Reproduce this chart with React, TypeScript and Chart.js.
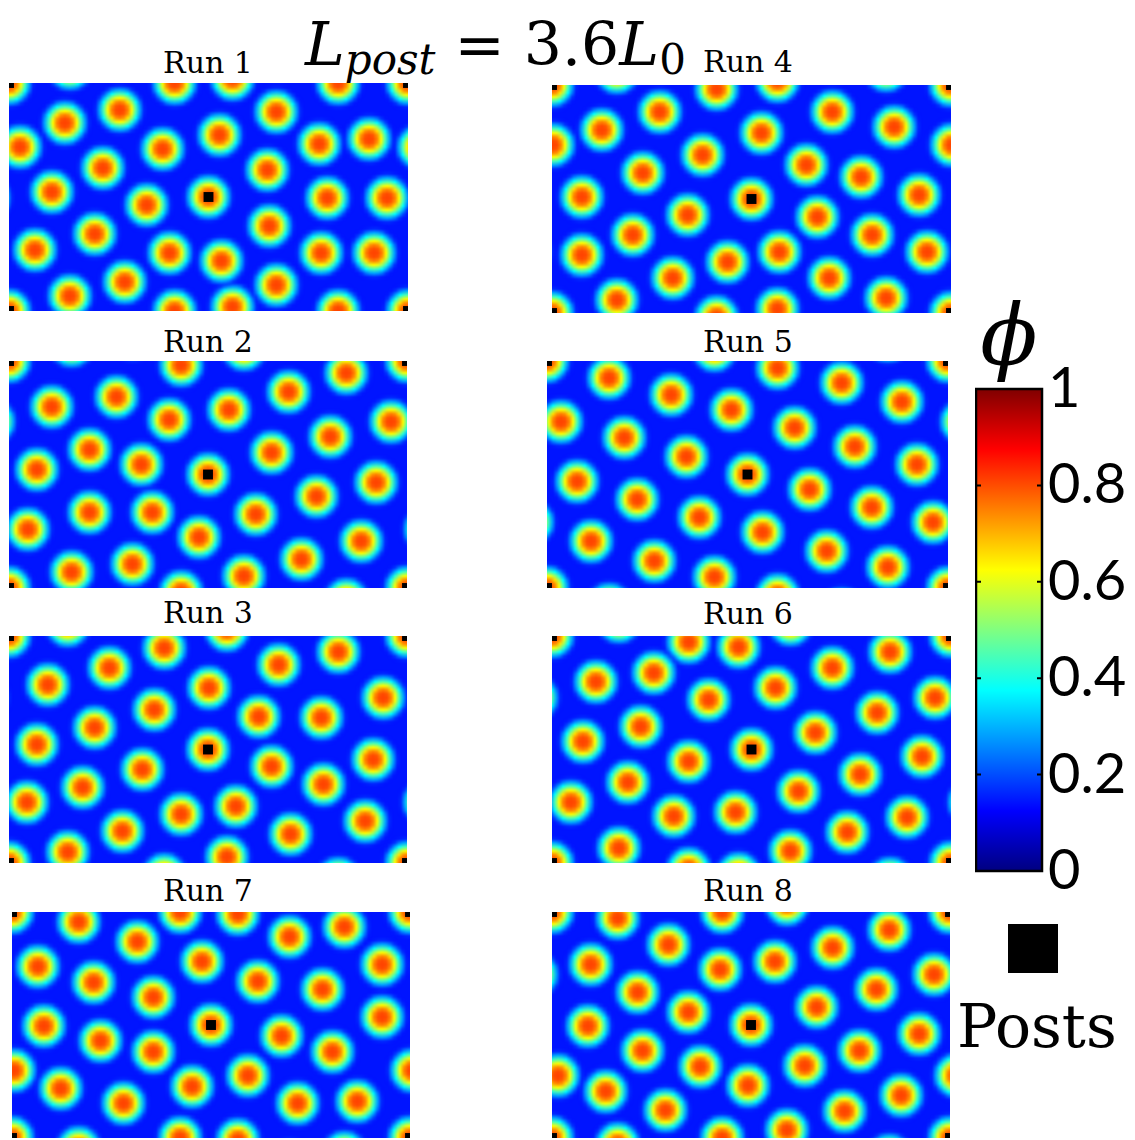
import React, { useEffect, useRef } from "react";
import { Chart, registerables } from "chart.js";

Chart.register(...registerables);

type Pt = [number, number];

// Periodic simulation cell: x in [-200, 200], y in [-114, 114], post at the origin.
const CELL_W = 400;
const CELL_H = 228;

// Order parameter scale
const PHI_MIN = 0;
const PHI_MAX = 1;
const PHI_TICKS = [0, 0.2, 0.4, 0.6, 0.8, 1];
const PHI_BACKGROUND = 0.145; // matrix level between the domains
const PHI_PEAK = 0.81; // level at a domain centre

const RUN_TITLES = ["Run 1", "Run 2", "Run 3", "Run 4", "Run 5", "Run 6", "Run 7", "Run 8"];

// Posts: one at the cell centre, one at the cell corner (periodic images fill the other corners)
const POSTS: Pt[] = [
  [0, 0],
  [200, 114],
];

// Domain centres found in each run (cell units, y up)
const RUN1: Pt[] = [
  [-34, 114], [24, -110], [130, 114],
  [-89, 87], [68, 85], [-144, 74], [11, 62], [-189, 50], [-46, 48], [111, 53], [161, 58],
  [-106, 29], [59, 27], [-157, 5], [-62, -8], [119, -1], [179, -1],
  [-114, -37], [61, -29], [-174, -53], [-39, -56], [13, -64], [113, -56], [166, -56],
  [-84, -85], [68, -88], [-139, -99],
];
const RUN2: Pt[] = [
  [-27, 110], [-137, -98], [36, -102], [139, 102],
  [-157, 68], [-92, 78], [-39, 55], [21, 65], [81, 83], [184, 53], [123, 38], [-119, 25],
  [64, 22], [-172, 5], [-67, 10],
  [169, -8], [109, -22], [-119, -38], [-56, -38], [48, -40], [-181, -55], [-9, -63],
  [154, -67], [-76, -90], [94, -85],
];
const RUN3: Pt[] = [
  [-44, 102], [131, 98], [-99, 82], [-161, 65], [1, 62], [71, 85], [176, 52], [-54, 40],
  [51, 33], [114, 32], [-114, 22], [-172, 5],
  [-66, -20], [64, -17], [166, -10], [-126, -38], [116, -35], [-182, -53], [-27, -65],
  [28, -57], [-86, -82], [83, -85], [158, -72], [-141, -103], [19, -108],
];
const RUN4: Pt[] = [
  [-35, 110], [26, -110],
  [-92, 87], [81, 87], [-150, 69], [10, 66], [143, 72], [-199, 54], [-49, 44], [55, 34],
  [110, 22], [-109, 26],
  [-170, 2], [168, 4], [-64, -16], [66, -18], [-119, -36], [121, -36], [-170, -56],
  [-24, -63], [28, -53], [176, -53],
  [-79, -79], [78, -79], [-135, -101], [135, -99],
];
const RUN5: Pt[] = [
  [30, 107], [-33, -103],
  [-138, 97], [-76, 80], [94, 92], [-16, 65], [154, 73], [-186, 53], [47, 47], [-123, 37],
  [107, 28], [-61, 18], [169, 10],
  [-170, -7], [62, -15], [-110, -25], [124, -33], [-48, -43], [185, -48], [-156, -67],
  [15, -58], [79, -77], [-93, -87], [140, -93],
];
const RUN6: Pt[] = [
  [-63, 108], [-13, 103], [139, 98], [-156, 68], [-98, 77], [-43, 50], [24, 62], [81, 82],
  [184, 52], [126, 37], [-111, 23], [64, 17], [-169, 8],
  [-63, -12], [171, -7], [109, -25], [-124, -33], [47, -42], [-181, -53], [-16, -63],
  [-78, -67], [156, -68], [96, -83], [-133, -99], [39, -102],
];
const RUN7: Pt[] = [
  [-133, 104], [-31, 114], [27, 112], [-74, 84], [79, 89], [134, 99], [-174, 59], [-9, 64],
  [172, 61], [-118, 43], [47, 44], [112, 36], [-58, 28],
  [-168, -1], [172, 8], [71, -11], [-111, -16], [-58, -27], [122, -27], [-198, -46],
  [37, -51], [-151, -64], [-19, -62], [-88, -79], [87, -79], [147, -77],
];
const RUN8: Pt[] = [
  [-134, 108], [-29, 114], [36, -106], [139, 96], [-83, 81], [82, 78], [-161, 61], [-31, 56],
  [24, 64], [184, 51], [-114, 33], [126, 36], [-63, 13], [66, 18],
  [-164, -1], [169, -9], [-109, -26], [-51, -42], [54, -41], [109, -26], [-194, -51],
  [-3, -61], [-146, -67], [151, -71], [-86, -86], [94, -87],
];

const RUN_DOTS: Pt[][] = [RUN1, RUN2, RUN3, RUN4, RUN5, RUN6, RUN7, RUN8];

// Page placement of each run's panel and its caption
const PANEL_LAYOUT = [
  { left: 9, top: 83, width: 399, height: 228, labelX: 208, labelBase: 73 },
  { left: 9, top: 361, width: 398, height: 227, labelX: 208, labelBase: 352 },
  { left: 9, top: 636, width: 398, height: 227, labelX: 208, labelBase: 623 },
  { left: 552, top: 85, width: 399, height: 228, labelX: 748, labelBase: 72 },
  { left: 547, top: 361, width: 401, height: 227, labelX: 748, labelBase: 352 },
  { left: 552, top: 636, width: 399, height: 227, labelX: 748, labelBase: 624 },
  { left: 12, top: 912, width: 398, height: 226, labelX: 208, labelBase: 901 },
  { left: 552, top: 912, width: 398, height: 226, labelX: 748, labelBase: 901 },
];

const SERIF = '"DejaVu Serif", "Liberation Serif", serif';
const SANS = 'Lato, "Open Sans", "Noto Sans", sans-serif';

// Jet colour map
function jet(v: number): [number, number, number] {
  const c = (t: number) => Math.max(0, Math.min(1, t));
  const r = c(Math.min(4 * v - 1.5, -4 * v + 4.5));
  const g = c(Math.min(4 * v - 0.5, -4 * v + 3.5));
  const b = c(Math.min(4 * v + 0.5, -4 * v + 2.5));
  return [Math.round(r * 255), Math.round(g * 255), Math.round(b * 255)];
}
const jetCss = (v: number) => {
  const [r, g, b] = jet(v);
  return `rgb(${r},${g},${b})`;
};

// Marker image for one domain: flat-topped radial profile on a coarse grid, upsampled bilinearly.
// The faint outer halo fades to transparent so neighbouring domains are not covered.
const DOT_SCALE = 17.5;
const DOT_SHARPNESS = 3;
let spriteCache: HTMLCanvasElement | null = null;
function dotSprite(): HTMLCanvasElement {
  if (spriteCache) return spriteCache;
  const n = 15;
  const cell = 4;
  const size = n * cell;
  const small = document.createElement("canvas");
  small.width = n;
  small.height = n;
  const sctx = small.getContext("2d")!;
  const img = sctx.createImageData(n, n);
  for (let j = 0; j < n; j++) {
    for (let i = 0; i < n; i++) {
      const r = Math.hypot((i + 0.5 - n / 2) * cell, (j + 0.5 - n / 2) * cell);
      const f = Math.exp(-Math.pow(r / DOT_SCALE, DOT_SHARPNESS));
      const [R, G, B] = jet(PHI_BACKGROUND + (PHI_PEAK - PHI_BACKGROUND) * f);
      const k = (j * n + i) * 4;
      img.data[k] = R;
      img.data[k + 1] = G;
      img.data[k + 2] = B;
      img.data[k + 3] = Math.round(255 * Math.max(0, Math.min(1, (f - 0.02) / 0.13)));
    }
  }
  sctx.putImageData(img, 0, 0);
  const big = document.createElement("canvas");
  big.width = size;
  big.height = size;
  const bctx = big.getContext("2d")!;
  bctx.imageSmoothingEnabled = true;
  bctx.drawImage(small, 0, 0, size, size);
  spriteCache = big;
  return big;
}

// Periodic images of a set of centres so domains crossing an edge wrap around
const periodic = (pts: Pt[]) =>
  pts.flatMap(([x, y]) =>
    [-1, 0, 1].flatMap((i) => [-1, 0, 1].map((j) => ({ x: x + i * CELL_W, y: y + j * CELL_H })))
  );

const matrixFill = {
  id: "matrixFill",
  beforeDatasetsDraw(chart: any) {
    const { ctx, chartArea: a } = chart;
    ctx.save();
    ctx.fillStyle = jetCss(PHI_BACKGROUND);
    ctx.fillRect(a.left, a.top, a.right - a.left, a.bottom - a.top);
    ctx.restore();
  },
};

function RunPanel({ dots, layout }: { dots: Pt[]; layout: (typeof PANEL_LAYOUT)[number] }) {
  const ref = useRef<HTMLCanvasElement>(null);
  useEffect(() => {
    const chart = new Chart(ref.current!, {
      type: "scatter",
      data: {
        datasets: [
          {
            label: "Posts",
            data: periodic(POSTS),
            pointStyle: "rect",
            pointRadius: 7,
            backgroundColor: "#000",
            borderWidth: 0,
            clip: 0,
          } as any,
          {
            label: "φ",
            data: periodic([...POSTS, ...dots]),
            pointStyle: dotSprite(),
            pointRadius: 30,
            borderWidth: 0,
            clip: 0,
          } as any,
        ],
      },
      options: {
        animation: false,
        responsive: false,
        devicePixelRatio: 1,
        events: [],
        layout: { padding: 0, autoPadding: false },
        plugins: { legend: { display: false }, tooltip: { enabled: false } },
        scales: {
          x: { type: "linear", min: -CELL_W / 2, max: CELL_W / 2, display: false },
          y: { type: "linear", min: -CELL_H / 2, max: CELL_H / 2, display: false },
        },
      },
      plugins: [matrixFill],
    });
    return () => chart.destroy();
  }, [dots]);
  return (
    <canvas
      ref={ref}
      width={layout.width}
      height={layout.height}
      style={{
        position: "absolute",
        left: layout.left,
        top: layout.top,
        width: layout.width,
        height: layout.height,
        display: "block",
      }}
    />
  );
}

const colorbarFrame = {
  id: "colorbarFrame",
  afterDatasetsDraw(chart: any) {
    const { ctx, chartArea: a } = chart;
    const y = chart.scales.y;
    ctx.save();
    ctx.strokeStyle = "#000";
    ctx.lineWidth = 2.5;
    ctx.strokeRect(a.left, a.top, a.right - a.left, a.bottom - a.top);
    ctx.lineWidth = 2;
    PHI_TICKS.filter((v) => v > PHI_MIN && v < PHI_MAX).forEach((v) => {
      const py = y.getPixelForValue(v);
      ctx.beginPath();
      ctx.moveTo(a.left, py);
      ctx.lineTo(a.left + 5, py);
      ctx.moveTo(a.right, py);
      ctx.lineTo(a.right - 5, py);
      ctx.stroke();
    });
    ctx.restore();
  },
};

function Colorbar() {
  const ref = useRef<HTMLCanvasElement>(null);
  useEffect(() => {
    const chart = new Chart(ref.current!, {
      type: "bar",
      data: {
        labels: ["φ"],
        datasets: [
          {
            data: [[PHI_MIN, PHI_MAX]] as any,
            borderWidth: 0,
            barPercentage: 1,
            categoryPercentage: 1,
            backgroundColor: (c: any) => {
              const area = c.chart.chartArea;
              if (!area) return "transparent";
              const g = c.chart.ctx.createLinearGradient(0, area.bottom, 0, area.top);
              for (let k = 0; k <= 8; k++) g.addColorStop(k / 8, jetCss(k / 8));
              return g;
            },
          },
        ],
      },
      options: {
        animation: false,
        responsive: false,
        devicePixelRatio: 1,
        events: [],
        layout: { padding: { top: 33, bottom: 28, left: 1, right: 0 }, autoPadding: false },
        plugins: { legend: { display: false }, tooltip: { enabled: false } },
        scales: {
          x: { display: false },
          y: {
            position: "right",
            min: PHI_MIN,
            max: PHI_MAX,
            afterBuildTicks: (s: any) => {
              s.ticks = PHI_TICKS.map((value) => ({ value }));
            },
            afterFit: (s: any) => {
              s.width = 93;
            },
            ticks: {
              color: "#000",
              padding: 6,
              font: { family: SANS, size: 56, lineHeight: 1 },
              callback: (v: any) => String(v),
            },
            grid: { display: false, drawTicks: false },
            border: { display: false },
          },
        },
      },
      plugins: [colorbarFrame],
    });
    return () => chart.destroy();
  }, []);
  return (
    <canvas
      ref={ref}
      width={160}
      height={550}
      style={{ position: "absolute", left: 975, top: 355, width: 160, height: 550, display: "block" }}
    />
  );
}

function TextAt({
  x,
  base,
  size,
  align = "left",
  style,
  children,
}: {
  x: number;
  base: number;
  size: number;
  align?: "left" | "center";
  style?: React.CSSProperties;
  children: React.ReactNode;
}) {
  const w = 300;
  return (
    <div
      style={{
        position: "absolute",
        left: align === "center" ? x - w / 2 : x,
        width: align === "center" ? w : undefined,
        textAlign: align,
        top: base - 0.846 * size,
        fontFamily: SERIF,
        fontSize: size,
        lineHeight: `${size}px`,
        whiteSpace: "nowrap",
        color: "#000",
        ...style,
      }}
    >
      {children}
    </div>
  );
}

export default function App() {
  return (
    <div
      style={{
        position: "absolute",
        left: 0,
        top: 0,
        width: 1135,
        height: 1140,
        background: "#fff",
        overflow: "hidden",
      }}
    >
      <TextAt x={305} base={65} size={60}>
        <span style={{ fontStyle: "italic" }}>L</span>
        <span style={{ fontStyle: "italic", fontSize: 42, position: "relative", top: 9 }}>post</span>
        <span> = 3.6</span>
        <span style={{ fontStyle: "italic" }}>L</span>
        <span style={{ fontSize: 42, position: "relative", top: 9 }}>0</span>
      </TextAt>

      {RUN_DOTS.map((dots, i) => (
        <React.Fragment key={RUN_TITLES[i]}>
          <TextAt x={PANEL_LAYOUT[i].labelX} base={PANEL_LAYOUT[i].labelBase} size={30} align="center">
            {RUN_TITLES[i]}
          </TextAt>
          <RunPanel dots={dots} layout={PANEL_LAYOUT[i]} />
        </React.Fragment>
      ))}

      <TextAt x={1009} base={364} size={84} align="center" style={{ fontStyle: "italic" }}>
        ϕ
      </TextAt>
      <Colorbar />

      <div style={{ position: "absolute", left: 1008, top: 924, width: 50, height: 49, background: "#000" }} />
      <TextAt x={957} base={1047} size={60}>
        Posts
      </TextAt>
    </div>
  );
}
